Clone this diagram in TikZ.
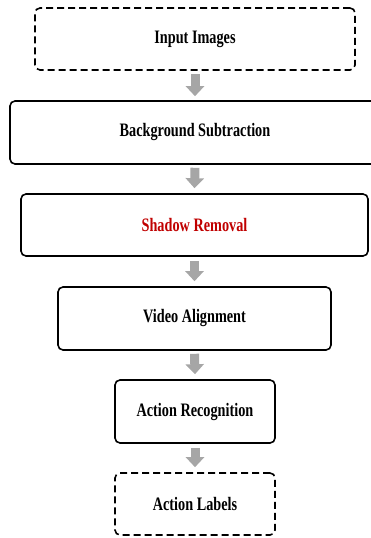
\documentclass[tikz,border=0pt]{standalone}
\usepackage{fontspec}
\setmainfont{Liberation Serif}[FakeStretch=0.75]
\usepackage{xcolor}
\usetikzlibrary{arrows.meta,positioning,calc}
\definecolor{flowgray}{HTML}{A6A6A6}
\definecolor{flowred}{HTML}{C00000}

\begin{document}
\begin{tikzpicture}[x=1pt,y=-1pt,font=\fontsize{19}{22}\selectfont\bfseries]
	\tikzstyle{block} = [draw,rectangle,rounded corners=5pt,line width=1.6pt,text centered,minimum height=62pt]
	\tikzstyle{io} = [block,dashed,dash pattern=on 7pt off 4pt]
	\tikzstyle{flow} = [draw=flowgray,line width=9pt,-{Triangle[width=18pt,length=10pt]}]
	
	\useasboundingbox (0,0) rectangle (371,538);
	
	\node[io,minimum width=320pt] (T1) at (195,39) {Input Images};
	\node[block,minimum width=370pt,minimum height=63pt] (T2) at (195,132.5) {Background Subtraction};
	\node[block,minimum width=347pt,text=flowred] (T3) at (194.5,225) {Shadow Removal};
	\node[block,minimum width=273pt,minimum height=63pt] (T4) at (194.5,318.5) {Video Alignment};
	\node[block,minimum width=160pt,minimum height=63pt] (T5) at (195,411.5) {Action Recognition};
	\node[io,minimum width=160pt] (T6) at (195,504) {Action Labels};
	
	\draw[flow] ([yshift=-3pt]T1.south) -- ([yshift=4pt]T2.north);
	\draw[flow] ([yshift=-3pt]T2.south) -- ([yshift=5pt]T3.north);
	\draw[flow] ([yshift=-4pt]T3.south) -- ([yshift=5pt]T4.north);
	\draw[flow] ([yshift=-3pt]T4.south) -- ([yshift=5pt]T5.north);
	\draw[flow] ([yshift=-4pt]T5.south) -- ([yshift=5pt]T6.north);
	
\end{tikzpicture}
\end{document}
